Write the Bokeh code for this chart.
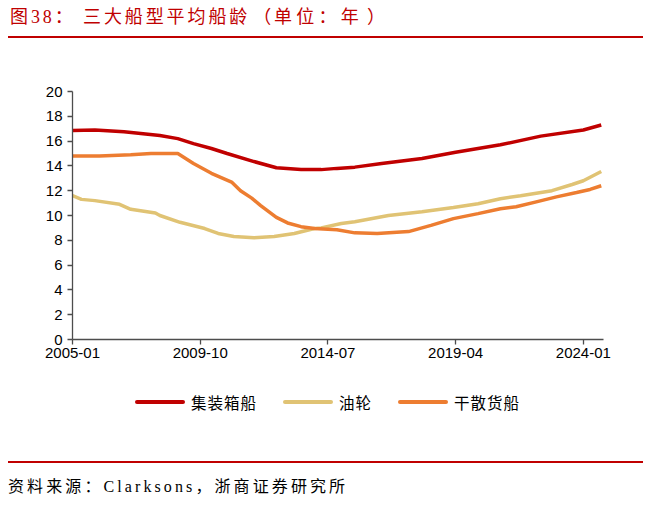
from bokeh.plotting import figure
from bokeh.models import Range1d, Div, FixedTicker
from bokeh.layouts import column
from bokeh.embed import file_html
from bokeh.resources import INLINE

# x values are months since 2005-01
tick_months = [0, 57, 114, 171, 228]
tick_labels = ["2005-01", "2009-10", "2014-07", "2019-04", "2024-01"]

container_m = [0, 10, 23, 39, 47, 54, 62, 69, 81, 91, 102, 111, 118, 126, 138, 156, 171, 191, 209, 228, 236]
container_v = [16.85, 16.9, 16.75, 16.45, 16.2, 15.8, 15.4, 15.0, 14.35, 13.85, 13.7, 13.7, 13.8, 13.9, 14.2, 14.6, 15.1, 15.7, 16.4, 16.9, 17.3]

tanker_m = [0, 4, 10, 21, 26, 37, 39, 48, 59, 65, 72, 81, 90, 99, 108, 111, 120, 126, 141, 156, 170, 181, 191, 200, 214, 223, 228, 236]
tanker_v = [11.6, 11.3, 11.2, 10.9, 10.5, 10.2, 10.0, 9.45, 8.95, 8.55, 8.3, 8.2, 8.3, 8.55, 8.95, 9.0, 9.35, 9.5, 10.0, 10.3, 10.65, 10.95, 11.35, 11.6, 12.0, 12.5, 12.8, 13.55]

bulk_m = [0, 12, 26, 35, 47, 54, 62, 71, 75, 80, 84, 91, 96, 102, 108, 118, 126, 136, 150, 160, 170, 181, 191, 198, 207, 216, 225, 231, 236]
bulk_v = [14.8, 14.8, 14.9, 15.0, 15.0, 14.2, 13.4, 12.7, 12.0, 11.4, 10.8, 9.85, 9.4, 9.1, 8.95, 8.85, 8.6, 8.55, 8.7, 9.2, 9.75, 10.15, 10.55, 10.7, 11.1, 11.5, 11.85, 12.1, 12.4]

series_names = ["集装箱船", "油轮", "干散货船"]
series_colors = ["#C00000", "#E0C374", "#ED7D31"]

title_parts = ["图38：", "三大船型平均船龄", "（", "单位：年", "）"]
source_text = "资料来源：Clarksons，浙商证券研究所"

CJK = "'Liberation Serif', 'Noto Sans CJK SC', serif"

title_html = (f'{title_parts[0]}&nbsp;{title_parts[1]}'
              f'<span style="padding-left:3px;">{title_parts[2]}</span>'
              f'<span style="letter-spacing:4.2px;">{title_parts[3]}</span>'
              f'<span style="padding-left:4px;">{title_parts[4]}</span>')

title_div = Div(
    text=f'<div style="margin-left:8px;width:635px;height:38px;box-sizing:border-box;'
         f'border-bottom:2px solid #C00000;padding-top:7px;padding-left:2px;'
         f'font-family:{CJK};font-size:18px;letter-spacing:2.9px;color:#C00000;'
         f'line-height:20px;white-space:nowrap;">{title_html}</div>',
    width=666, height=38, margin=(0, 0, 0, 0))

p = figure(width=666, height=347, output_backend="svg", toolbar_location=None,
           x_range=Range1d(0, 237), y_range=Range1d(0, 20),
           min_border_left=72, min_border_right=63, min_border_top=53, min_border_bottom=46)
p.outline_line_color = None
p.xgrid.visible = False
p.ygrid.visible = False

p.line(container_m, container_v, line_color=series_colors[0], line_width=3.5)
p.line(tanker_m, tanker_v, line_color=series_colors[1], line_width=3.5)
p.line(bulk_m, bulk_v, line_color=series_colors[2], line_width=3.5)

for ax in (p.xaxis[0], p.yaxis[0]):
    ax.axis_line_color = "#4d4d4d"
    ax.axis_line_width = 1.3
    ax.major_tick_line_color = "#4d4d4d"
    ax.major_tick_line_width = 1.3
    ax.major_tick_out = 5
    ax.major_tick_in = 0
    ax.minor_tick_line_color = None
    ax.major_label_text_font = "Liberation Sans"
    ax.major_label_text_font_size = "15px"
    ax.major_label_text_color = "#000000"

p.yaxis.ticker = FixedTicker(ticks=list(range(0, 21, 2)))
p.yaxis.major_label_standoff = 5
p.xaxis.ticker = FixedTicker(ticks=tick_months)
p.xaxis.major_label_overrides = {m: l for m, l in zip(tick_months, tick_labels)}
p.xaxis.major_label_standoff = 3

legend_items = "".join(
    f'<span style="display:inline-flex;align-items:center;margin-right:26px;">'
    f'<span style="display:inline-block;width:50px;height:4px;border-radius:2px;background:{c};margin-right:6px;"></span>'
    f'<span style="font-family:\'Noto Sans CJK SC\';font-size:15.5px;letter-spacing:1px;color:#000;">{n}</span></span>'
    for n, c in zip(series_names, series_colors))
legend_div = Div(
    text=f'<div style="padding-left:135px;padding-top:7px;line-height:20px;white-space:nowrap;'
         f'display:flex;align-items:center;">{legend_items}</div>',
    width=666, height=75, margin=(0, 0, 0, 0))

source_div = Div(
    text=f'<div style="margin-left:8px;margin-top:1px;width:635px;border-top:2px solid #C00000;'
         f'font-family:{CJK};font-size:16px;letter-spacing:3.1px;color:#000000;'
         f'padding-top:14px;padding-left:0px;line-height:20px;white-space:nowrap;">{source_text}</div>',
    width=666, height=50, margin=(0, 0, 0, 0))

layout = column(title_div, p, legend_div, source_div, spacing=0)
open("out.html", "w").write(file_html(layout, INLINE))
